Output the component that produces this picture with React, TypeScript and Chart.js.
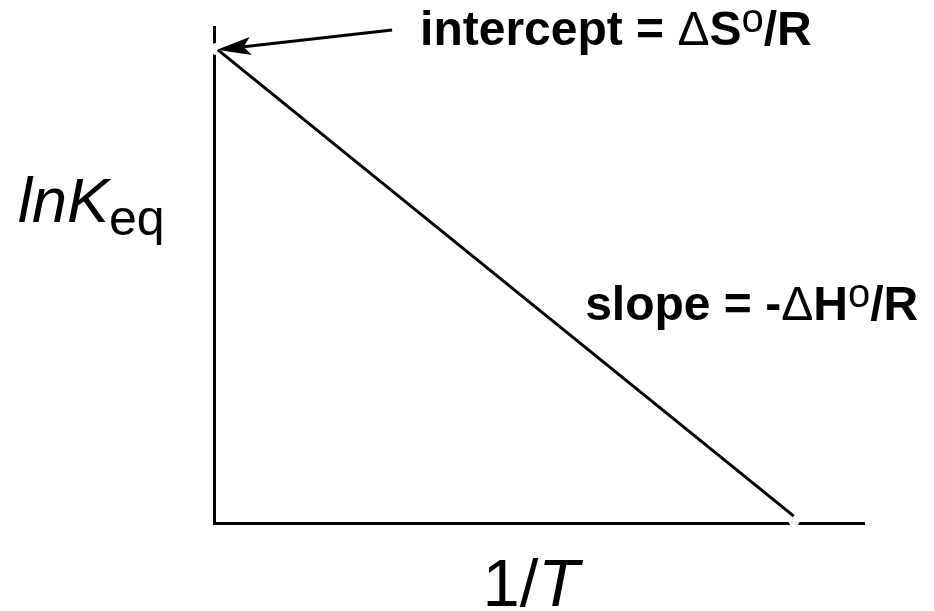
import React, { useEffect, useRef } from "react";
import { Chart, registerables } from "chart.js";

Chart.register(...registerables);

// ---- data (unitless 0..1 axes) ----
const oneOverT = [0.006, 0.892];
const lnKeq = [0.954, 0.014];
// white halo round the line ends (gaps where the line meets the axes)
const haloOneOverT = [0.0031, 0.8923];
const haloLnKeq = [0.9556, 0.006];
const xRange = [0, 1];
const yRange = [0, 1];

// ---- annotation text ----
const FONT = '"Liberation Sans", Arial, sans-serif';
type Run = { t: string; weight?: string; style?: string; size: number; dy?: number };

const interceptParts: Run[] = [
  { t: "intercept = ", weight: "bold", size: 48 },
  { t: "\u0394", weight: "normal", size: 48 },
  { t: "S", weight: "bold", size: 48 },
  { t: "o", weight: "normal", size: 40, dy: -13 },
  { t: "/R", weight: "bold", size: 48 },
];
const slopeParts: Run[] = [
  { t: "slope = -", weight: "bold", size: 48 },
  { t: "\u0394", weight: "normal", size: 48 },
  { t: "H", weight: "bold", size: 48 },
  { t: "o", weight: "normal", size: 40, dy: -13 },
  { t: "/R", weight: "bold", size: 48 },
];
const yTitleParts: Run[] = [
  { t: "lnK", style: "italic", size: 63 },
  { t: "eq", size: 50, dy: 13 },
];
const xTitleParts: Run[] = [
  { t: "1/", size: 67 },
  { t: "T", style: "italic", size: 67 },
];

// anchors in data coordinates
const interceptAt = { x: 0.317, y: 0.964 };
const slopeAt = { x: 0.571, y: 0.409 };
const arrowTail = { x: 0.274, y: 0.994 };
const yTitleAt = { y: 0.607 };
const xTitleAt = { x: 0.413 };

function drawRuns(ctx: CanvasRenderingContext2D, runs: Run[], x: number, y: number) {
  let cx = x;
  ctx.save();
  ctx.fillStyle = "#000";
  ctx.textBaseline = "alphabetic";
  ctx.textAlign = "left";
  for (const r of runs) {
    ctx.font = `${r.style || "normal"} ${r.weight || "normal"} ${r.size}px ${FONT}`;
    ctx.fillText(r.t, cx, y + (r.dy || 0));
    cx += ctx.measureText(r.t).width;
  }
  ctx.restore();
}

const annotationPlugin = {
  id: "annotations",
  afterDraw(chart: any) {
    const ctx: CanvasRenderingContext2D = chart.ctx;
    const xs = chart.scales.x;
    const ys = chart.scales.y;
    const area = chart.chartArea;

    // arrow pointing at the intercept
    const tipX = xs.getPixelForValue(oneOverT[0]) - 1;
    const tipY = ys.getPixelForValue(lnKeq[0]);
    const tailX = xs.getPixelForValue(arrowTail.x);
    const tailY = ys.getPixelForValue(arrowTail.y);
    const dx = tipX - tailX;
    const dy = tipY - tailY;
    const len = Math.hypot(dx, dy);
    const ux = dx / len;
    const uy = dy / len;
    const nx = -uy;
    const ny = ux;
    const L = 34;
    const W = 9;
    const notch = 7;
    ctx.save();
    ctx.strokeStyle = "#000";
    ctx.fillStyle = "#000";
    ctx.lineWidth = 3;
    ctx.beginPath();
    ctx.moveTo(tailX, tailY);
    ctx.lineTo(tipX - (L - notch) * ux, tipY - (L - notch) * uy);
    ctx.stroke();
    ctx.beginPath();
    ctx.moveTo(tipX, tipY);
    ctx.lineTo(tipX - L * ux + W * nx, tipY - L * uy + W * ny);
    ctx.lineTo(tipX - (L - notch) * ux, tipY - (L - notch) * uy);
    ctx.lineTo(tipX - L * ux - W * nx, tipY - L * uy - W * ny);
    ctx.closePath();
    ctx.fill();
    ctx.restore();

    drawRuns(ctx, interceptParts, xs.getPixelForValue(interceptAt.x), ys.getPixelForValue(interceptAt.y));
    drawRuns(ctx, slopeParts, xs.getPixelForValue(slopeAt.x), ys.getPixelForValue(slopeAt.y));
    drawRuns(ctx, yTitleParts, area.left - 196, ys.getPixelForValue(yTitleAt.y));
    drawRuns(ctx, xTitleParts, xs.getPixelForValue(xTitleAt.x), area.bottom + 83);
  },
};

export default function App() {
  const ref = useRef<HTMLCanvasElement | null>(null);
  useEffect(() => {
    if (!ref.current) return;
    const axisOpts = {
      type: "linear" as const,
      display: true,
      grid: { display: false, drawTicks: false },
      ticks: { display: false },
      border: { display: true, color: "#000", width: 3 },
    };
    const chart = new Chart(ref.current, {
      type: "line",
      data: {
        datasets: [
          {
            label: "lnKeq",
            data: oneOverT.map((x, i) => ({ x, y: lnKeq[i] })),
            borderColor: "#000",
            borderWidth: 3,
            borderCapStyle: "butt",
            pointRadius: 0,
            fill: false,
            order: 1,
          },
          {
            label: "halo",
            data: haloOneOverT.map((x, i) => ({ x, y: haloLnKeq[i] })),
            borderColor: "#fff",
            borderWidth: 8,
            borderCapStyle: "butt",
            pointRadius: 6,
            pointBorderWidth: 0,
            pointBackgroundColor: "#fff",
            pointBorderColor: "#fff",
            fill: false,
            clip: false,
            order: 2,
          },
        ],
      },
      options: {
        responsive: false,
        maintainAspectRatio: false,
        animation: false,
        layout: { padding: { left: 214, top: 27, right: 70, bottom: 88 } },
        plugins: { legend: { display: false }, tooltip: { enabled: false } },
        scales: {
          x: { ...axisOpts, position: "bottom", min: xRange[0], max: xRange[1] },
          y: { ...axisOpts, position: "left", min: yRange[0], max: yRange[1] },
        },
      },
      plugins: [annotationPlugin],
    } as any);
    return () => chart.destroy();
  }, []);
  return (
    <div style={{ position: "fixed", left: 0, top: 0, width: 934, height: 611, background: "#fff" }}>
      <canvas ref={ref} width={934} height={611} style={{ display: "block" }} />
    </div>
  );
}
